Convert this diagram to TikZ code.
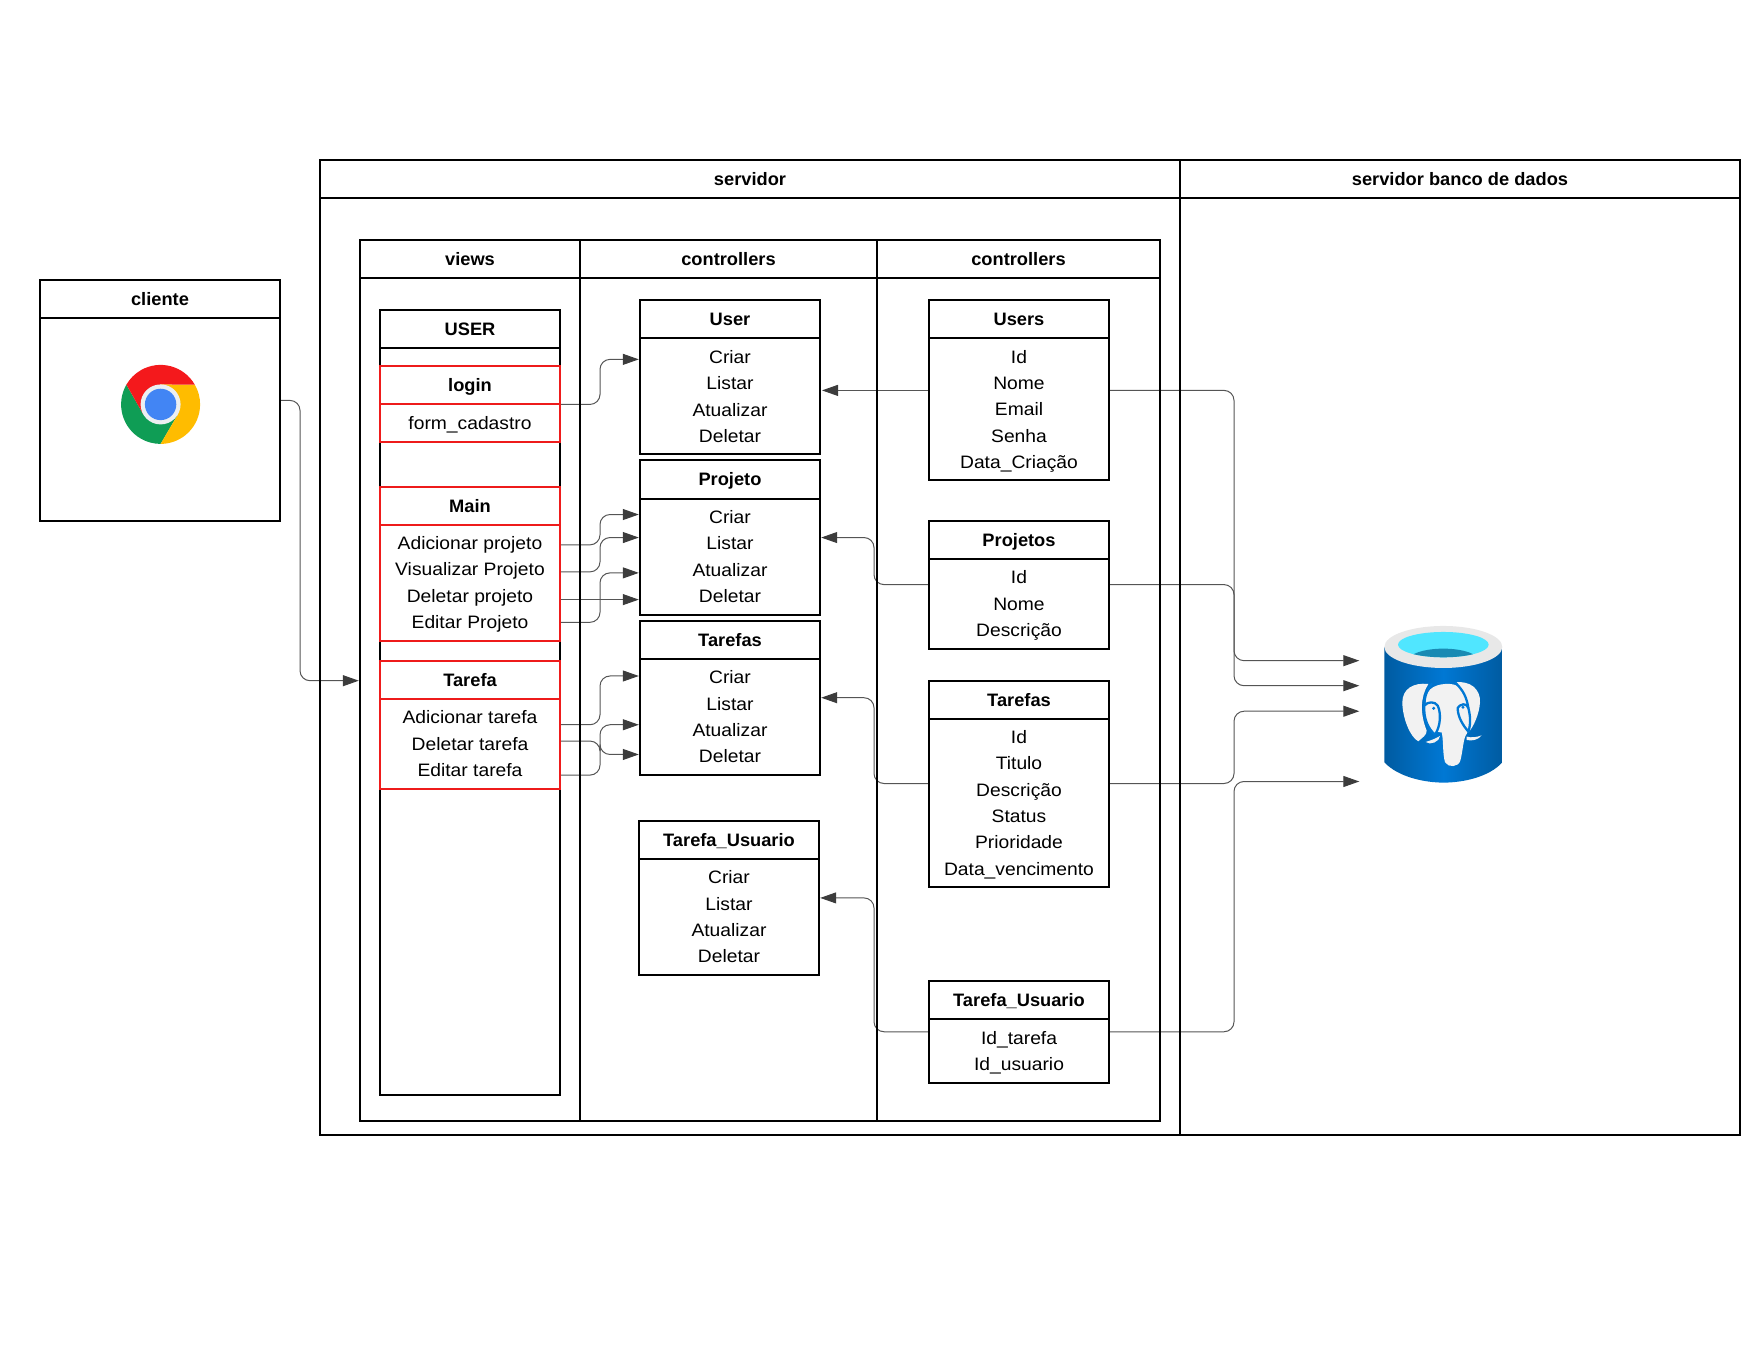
\documentclass[tikz,border=0pt]{standalone}
\usepackage{fontspec}
\setmainfont{Liberation Sans}[FakeStretch=1.07,BoldFeatures={FakeStretch=1.015}]
\usetikzlibrary{arrows.meta}
\pgfdeclarelayer{wires}
\pgfsetlayers{wires,main}
\definecolor{redline}{HTML}{EE1B1B}
\definecolor{wire}{HTML}{555555}
\definecolor{tip}{HTML}{3C3C3C}
\definecolor{dbdark}{HTML}{005BA1}
\definecolor{dbmid}{HTML}{0078D4}
\definecolor{dbring}{HTML}{E8E8E8}
\definecolor{dbcyan}{HTML}{50E6FF}
\definecolor{dbteal}{HTML}{198AB3}
\definecolor{elephant}{HTML}{F2F2F2}
\definecolor{chred}{HTML}{F4191C}
\definecolor{chgreen}{HTML}{0F9D55}
\definecolor{chyellow}{HTML}{FFBC00}
\definecolor{chblue}{HTML}{4285F4}
\definecolor{chring}{HTML}{ECEFF1}
\tikzset{
  panel/.style={draw=black,line width=2pt,inner sep=0pt,outer sep=0pt,align=center,
    font=\fontsize{18}{26.3}\selectfont},
  head/.style={panel,font=\fontsize{18}{26.3}\selectfont\bfseries},
  redpanel/.style={panel,draw=redline},
  redhead/.style={head,draw=redline},
  conn/.style={draw=wire,line width=1pt,rounded corners=10pt,
    -{Triangle[length=16pt,width=11pt,color=tip]}},
}
\newcommand{\tp}{\rule{0pt}{18pt}}
\newcommand{\bt}{\rule[-5pt]{0pt}{5pt}}
\newcommand{\tb}[7]{%
  \pgfmathsetmacro\tbw{#5-#3}\pgfmathsetmacro\tbh{(#6-#4)*1.001}%
  \pgfmathsetmacro\tbx{(#5+#3)/2}\pgfmathsetmacro\tby{(#6+#4)/2}%
  \node[#1,minimum width=\tbw pt,minimum height=\tbh pt] (#2) at (\tbx,\tby) {\tp#7\bt};}
\newcommand{\crud}{Criar\\Listar\\Atualizar\\Deletar}
% from anchor, its y, bus coordinate, target anchor, its y
\newcommand{\route}[5]{\draw[conn,shorten >=1.2pt] (#1 |- 0,#2) -- (#3 |- 0,#2) -- (#3 |- 0,#5) -- (#4 |- 0,#5);}
\begin{document}
\begin{tikzpicture}[x=1pt,y=-1.001pt]
\useasboundingbox (0,0) rectangle (1760,1358.64);
% cliente
\tb{head}{clienteHead}{40}{280}{280}{318}{cliente}
\tb{panel}{clienteBody}{40}{318}{280}{520}{}
% chrome icon
\begin{scope}[shift={(160.6,404)},x=1pt,y=1pt]
  \fill[chgreen] (-34.2,19.75) arc[start angle=150,end angle=270,radius=39.5] -- (17.3,-10) -- (-17.3,-10) -- cycle;
  \fill[chyellow] (0,-39.5) arc[start angle=270,end angle=390,radius=39.5] -- (0,20) -- (17.3,-10) -- cycle;
  \fill[chred] (34.2,19.75) arc[start angle=30,end angle=150,radius=39.5] -- (-17.3,-10) -- (0,20) -- cycle;
  \fill[chring] (0,0) circle[radius=20];
  \fill[chblue] (0,0) circle[radius=15.7];
\end{scope}
% servers
\tb{head}{servidorHead}{320}{160}{1180}{198}{servidor}
\tb{panel}{servidorBody}{320}{198}{1180}{1133.5}{}
\tb{head}{bancoHead}{1180}{160}{1740}{198}{servidor banco de dados}
\tb{panel}{bancoBody}{1180}{198}{1740}{1133.5}{}
% group columns
\tb{head}{viewsHead}{360}{240}{580}{278}{views}
\tb{panel}{viewsBody}{360}{278}{580}{1120}{}
\tb{head}{ctrlHead}{580}{240}{877}{278}{controllers}
\tb{panel}{ctrlBody}{580}{278}{877}{1120}{}
\tb{head}{modelHead}{877}{240}{1160}{278}{controllers}
\tb{panel}{modelBody}{877}{278}{1160}{1120}{}
% views
\tb{head}{userHead}{380}{310}{560}{348}{USER}
\tb{panel}{userBody}{380}{348}{560}{1094}{}
\tb{redhead}{loginHead}{380}{366}{560}{404}{login}
\tb{redpanel}{loginBody}{380}{404}{560}{442}{form\_cadastro}
\tb{redhead}{mainHead}{380}{486}{560}{524}{Main}
\tb{redpanel}{mainBody}{380}{524}{560}{640}{Adicionar projeto\\Visualizar Projeto\\Deletar projeto\\Editar Projeto}
\tb{redhead}{tarefaHead}{380}{660}{560}{698}{Tarefa}
\tb{redpanel}{tarefaBody}{380}{698}{560}{788}{Adicionar tarefa\\Deletar tarefa\\Editar tarefa}
% controllers
\tb{head}{cUserHead}{640}{300}{820}{338}{User}
\tb{panel}{cUserBody}{640}{338}{820}{454}{Criar\\Listar\\Atualizar\\Deletar}
\tb{head}{cProjHead}{640}{460}{820}{498}{Projeto}
\tb{panel}{cProjBody}{640}{498}{820}{614}{Criar\\Listar\\Atualizar\\Deletar}
\tb{head}{cTarHead}{640}{620}{820}{658}{Tarefas}
\tb{panel}{cTarBody}{640}{658}{820}{774}{Criar\\Listar\\Atualizar\\Deletar}
\tb{head}{cTuHead}{639}{820}{819}{858}{Tarefa\_Usuario}
\tb{panel}{cTuBody}{639}{858}{819}{974}{Criar\\Listar\\Atualizar\\Deletar}
% models
\tb{head}{mUserHead}{929}{300}{1109}{338}{Users}
\tb{panel}{mUserBody}{929}{338}{1109}{480}{Id\\Nome\\Email\\Senha\\Data\_Criação}
\tb{head}{mProjHead}{929}{520}{1109}{558}{Projetos}
\tb{panel}{mProjBody}{929}{558}{1109}{648}{Id\\Nome\\Descrição}
\tb{head}{mTarHead}{929}{680}{1109}{718}{Tarefas}
\tb{panel}{mTarBody}{929}{718}{1109}{886}{Id\\Titulo\\Descrição\\Status\\Prioridade\\Data\_vencimento}
\tb{head}{mTuHead}{929}{980}{1109}{1018}{Tarefa\_Usuario}
\tb{panel}{mTuBody}{929}{1018}{1109}{1082}{Id\_tarefa\\Id\_usuario}
% database icon
\coordinate (dbPort) at (1360.5,0);
\begin{scope}[shift={(1385,620)},x=0.3333pt,y=-0.3333pt]
  \path[left color=dbdark,right color=dbdark,middle color=dbmid]
    (-2,80) -- (-2,425) .. controls (40,470) and (120,486) .. (176,486) .. controls (232,486) and (312,470) .. (352,425) -- (352,80) -- cycle;
  \fill[dbring] (175,79) ellipse[x radius=177,y radius=63];
  \fill[dbcyan] (175,72) ellipse[x radius=136,y radius=38];
  \begin{scope}
    \clip (175,72) ellipse[x radius=136,y radius=38];
    \fill[dbteal] (175,122) ellipse[x radius=108,y radius=38];
  \end{scope}
  \fill[elephant] (130,190) .. controls (85,185) and (52,205) .. (52,245)
     .. controls (52,290) and (75,350) .. (100,362) .. controls (112,350) and (125,345) .. (125,330)
     .. controls (105,280) and (105,230) .. (130,190) -- cycle;
  \fill[elephant] (212,185) .. controls (255,180) and (287,205) .. (285,245)
     .. controls (283,280) and (265,320) .. (250,335) .. controls (258,280) and (245,220) .. (212,185) -- cycle;
  \fill[elephant] (122,240) .. controls (122,200) and (160,188) .. (195,190) .. controls (225,192) and (245,215) .. (250,250)
     .. controls (258,290) and (255,320) .. (245,340) .. controls (235,350) and (234,390) .. (226,420)
     .. controls (220,440) and (190,442) .. (180,425) .. controls (172,395) and (176,360) .. (170,335)
     .. controls (150,340) and (120,300) .. (122,240) -- cycle;
  \draw[dbmid,line width=2.3pt,line cap=round,line join=round,fill=elephant]
     (118,255) .. controls (128,242) and (150,242) .. (158,255) .. controls (168,275) and (168,315) .. (150,342)
     .. controls (130,325) and (115,295) .. (118,255) -- cycle;
  \draw[dbmid,line width=2.3pt,line cap=round,line join=round,fill=elephant]
     (218,262) .. controls (225,250) and (245,245) .. (250,262) .. controls (256,285) and (258,310) .. (250,333)
     .. controls (235,315) and (218,290) .. (218,262) -- cycle;
  \draw[dbmid,line width=2.3pt,line cap=round] (118,255) .. controls (118,225) and (128,205) .. (140,190);
  \draw[dbmid,line width=2.3pt,line cap=round] (250,262) .. controls (245,230) and (235,210) .. (212,187);
  \fill[dbmid] (146,263) circle[radius=5];
  \fill[dbmid] (234,260) circle[radius=5];
  \fill[elephant] (122,364) .. controls (135,360) and (150,355) .. (165,346) .. controls (165,362) and (135,376) .. (122,364) -- cycle;
  \fill[elephant] (245,348) .. controls (260,352) and (275,350) .. (290,344) .. controls (280,358) and (260,362) .. (245,358) -- cycle;
\end{scope}
% connector buses
\coordinate (busClient) at (300,0);
\coordinate (busViews) at (600,0);
\coordinate (busCtrl) at (874,0);
\coordinate (busDb) at (1234,0);
\begin{pgfonlayer}{wires}
  \route{clienteBody.east}{400}{busClient}{viewsBody.west}{680}
  \route{loginBody.east}{404}{busViews}{cUserBody.west}{359}
  \route{mainBody.east}{544.3}{busViews}{cProjBody.west}{514}
  \route{mainBody.east}{571.3}{busViews}{cProjBody.west}{537}
  \draw[conn,shorten >=1.2pt] (mainBody.east |- 0,599) -- (cProjBody.west |- 0,599);
  \route{mainBody.east}{621.7}{busViews}{cProjBody.west}{572.3}
  \route{tarefaBody.east}{724}{busViews}{cTarBody.west}{675.3}
  \route{tarefaBody.east}{740.3}{busViews}{cTarBody.west}{753.7}
  \route{tarefaBody.east}{774.3}{busViews}{cTarBody.west}{724}
  \draw[conn,shorten >=2pt] (mUserBody.west |- 0,390) -- (cUserBody.east |- 0,390);
  \route{mProjBody.west}{584}{busCtrl}{cProjBody.east}{537}
  \route{mTarBody.west}{782.7}{busCtrl}{cTarBody.east}{697}
  \route{mTuBody.west}{1030.7}{busCtrl}{cTuBody.east}{897}
  \route{mUserBody.east}{390}{busDb}{dbPort}{685}
  \route{mProjBody.east}{584}{busDb}{dbPort}{660}
  \route{mTarBody.east}{782.7}{busDb}{dbPort}{710.5}
  \route{mTuBody.east}{1030.7}{busDb}{dbPort}{780.7}
\end{pgfonlayer}
\end{tikzpicture}
\end{document}
